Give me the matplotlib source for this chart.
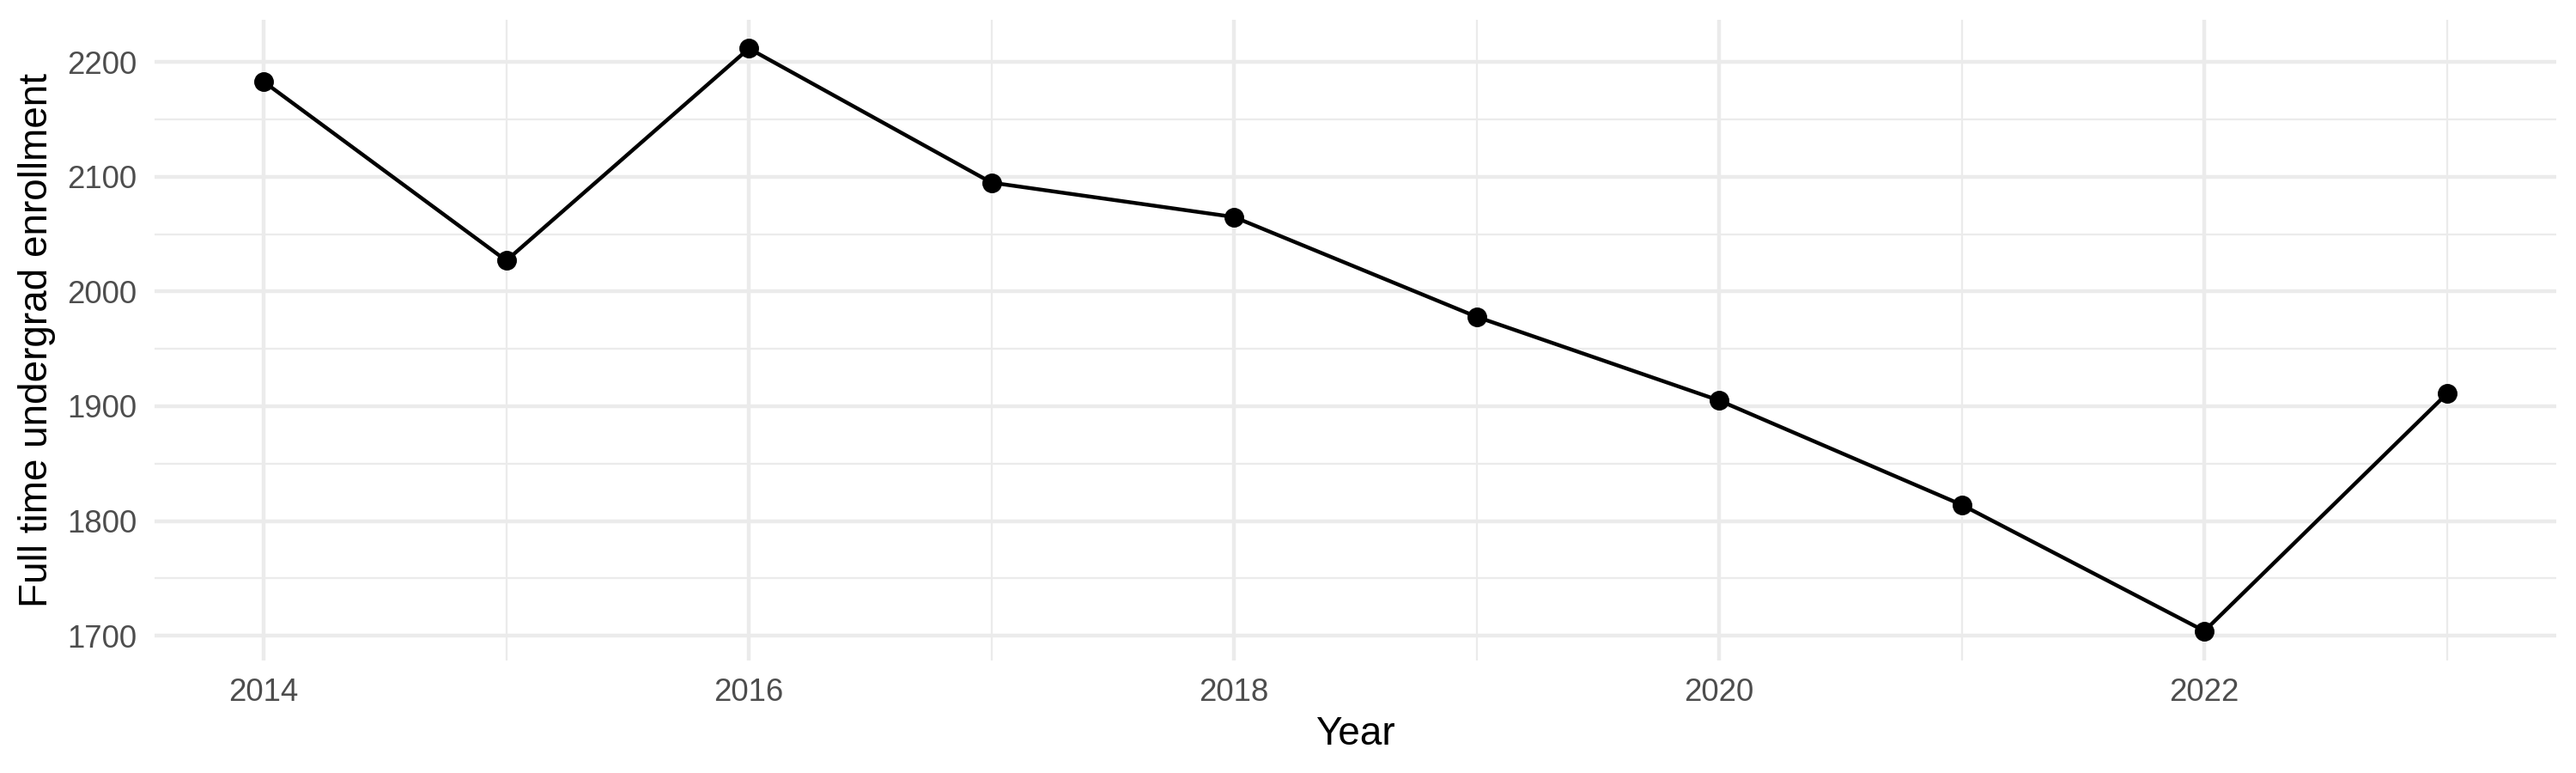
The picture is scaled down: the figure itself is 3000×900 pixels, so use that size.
import matplotlib
matplotlib.use("Agg")
import matplotlib.pyplot as plt
from matplotlib.ticker import FixedLocator

plt.rcParams['font.family'] = ['Liberation Sans', 'DejaVu Sans']

years = [2014, 2015, 2016, 2017, 2018, 2019, 2020, 2021, 2022, 2023]
enrollment = [2183, 2027, 2212, 2095, 2065, 1978, 1905, 1814, 1704, 1911]
x_ticks = [2014, 2016, 2018, 2020, 2022]
y_ticks = [1700, 1800, 1900, 2000, 2100, 2200]

fig = plt.figure(figsize=(10, 3), dpi=300)
ax = fig.add_axes([0.060, 0.146, 0.9323, 0.829])

ax.plot(years, enrollment, color='black', lw=1.07, zorder=3)
ax.plot(years, enrollment, 'o', color='black', ms=4.5, zorder=4)

xr = max(years) - min(years)
ax.set_xlim(min(years) - 0.05 * xr, max(years) + 0.05 * xr)
yr = max(enrollment) - min(enrollment)
ax.set_ylim(min(enrollment) - 0.05 * yr, max(enrollment) + 0.05 * yr)

ax.xaxis.set_major_locator(FixedLocator(x_ticks))
ax.xaxis.set_minor_locator(FixedLocator([y for y in years if y not in x_ticks]))
ax.yaxis.set_major_locator(FixedLocator(y_ticks))
ax.yaxis.set_minor_locator(FixedLocator([v + 50 for v in y_ticks[:-1]]))

ax.grid(which='major', color='#EBEBEB', lw=1.07)
ax.grid(which='minor', color='#EBEBEB', lw=0.53)
ax.set_axisbelow(True)
for s in ax.spines.values():
    s.set_visible(False)

ax.tick_params(which='both', length=0, labelsize=8.8, labelcolor='#4D4D4D', pad=5)
ax.set_xlabel('Year', fontsize=11, color='black', labelpad=2)
ax.set_ylabel('Full time undergrad enrollment', fontsize=11, color='black', labelpad=3)

fig.savefig('out.png', dpi=300, facecolor='white')
